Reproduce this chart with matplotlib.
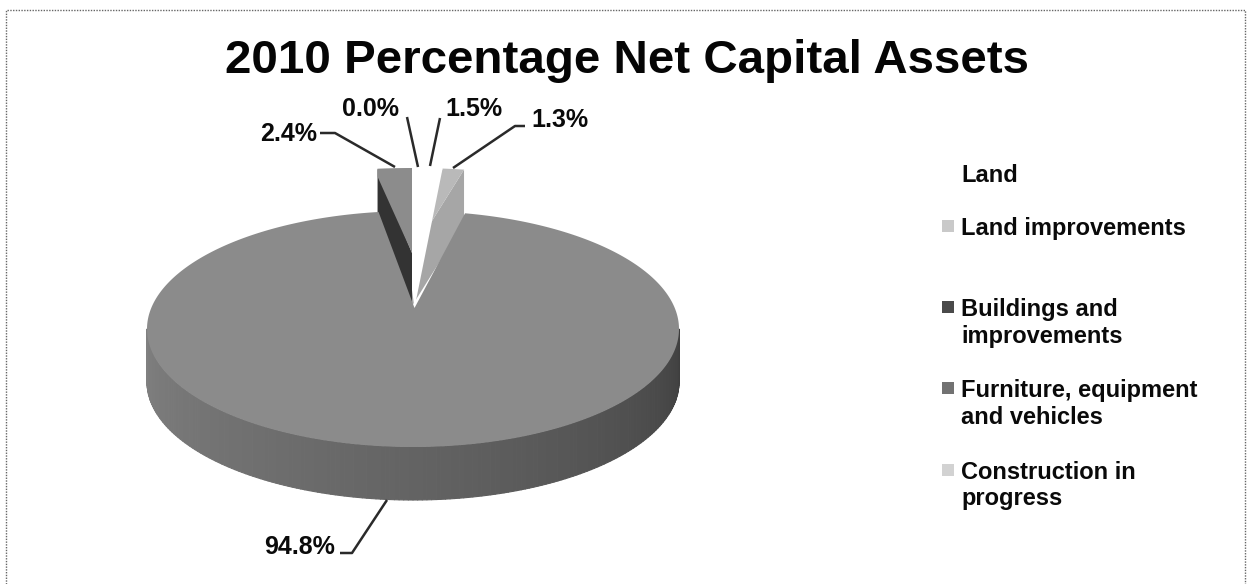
import numpy as np
import matplotlib
matplotlib.use("Agg")
import matplotlib.pyplot as plt
from matplotlib.collections import PolyCollection

# Share of net capital assets, 2010 (percent)
categories = ["Land", "Land improvements", "Buildings and\nimprovements",
              "Furniture, equipment\nand vehicles", "Construction in\nprogress"]
shares = [1.5, 1.3, 94.8, 2.4, 0.0]
share_labels = ["1.5%", "1.3%", "94.8%", "2.4%", "0.0%"]
swatch_colors = ["#ffffff", "#c9c9c9", "#4a4a4a", "#727272", "#d2d2d2"]

W, H = 1249, 584
fig = plt.figure(figsize=(W / 100, H / 100), dpi=100, facecolor="white")
ax = fig.add_axes([0, 0, 1, 1])
ax.set_xlim(0, W)
ax.set_ylim(H, 0)
ax.axis("off")
plt.rcParams["font.family"] = ["Liberation Sans", "DejaVu Sans"]

# Pie geometry in pixels
CX, CY, RX, RY = 413.0, 329.0, 266.0, 118.0
DEPTH = 53.0
APEX = (414.5, 308.0)             # inner point of the large slice's notch
SMALL_CX, SMALL_CY, SMALL_RY = 412.0, 253.0, 85.0  # pulled-out slices
ROTATION = 1.2                    # degrees clockwise from 12 o'clock

# Cumulative slice boundaries, clockwise from the top
edges = ROTATION + np.concatenate([[0], np.cumsum(shares)]) * 3.6
end_land, end_impr, end_bld = edges[1], edges[2], edges[3]


def main_pt(deg):
    t = np.radians(deg)
    return CX + RX * np.sin(t), CY - RY * np.cos(t)


def small_arc(a, b, n=12):
    t = np.radians(np.linspace(a, b, n))
    return np.column_stack([SMALL_CX + RX * np.sin(t), SMALL_CY - SMALL_RY * np.cos(t)])


# Border of the chart area, open along the bottom
ax.plot([6, 6, 1245, 1245], [584, 10, 10, 584], color="#666666", lw=1.0, ls=(0, (1, 1)), zorder=1)

# Pulled-out slice on the left: cut wall, then top face
arc = small_arc(end_bld - 360, 0.0)
ax.fill([arc[0, 0], arc[0, 0], SMALL_CX, SMALL_CX],
        [arc[0, 1], arc[0, 1] + DEPTH, SMALL_CY + DEPTH, SMALL_CY],
        color="#333333", lw=0, zorder=2)
ax.fill(*np.vstack([[[arc[0, 0], arc[0, 1] + 8]], arc, [[SMALL_CX, SMALL_CY]]]).T,
        color="#8c8c8c", lw=0, zorder=3)

# Pulled-out slices on the right: land improvements, then land
arc_i = small_arc(end_land, end_impr)
outer = arc_i[-1]
ax.fill([outer[0], outer[0], SMALL_CX, SMALL_CX],
        [outer[1], outer[1] + DEPTH, SMALL_CY + DEPTH, SMALL_CY],
        color="#a6a6a6", lw=0, zorder=2)
ax.fill(*np.vstack([arc_i, [[SMALL_CX, SMALL_CY]]]).T, color="#b9b9b9", lw=0, zorder=3)
arc_l = small_arc(0.0, end_land)
ax.fill(*np.vstack([arc_l, [APEX], [[SMALL_CX, 290]]]).T, color="#ffffff", lw=0, zorder=4)

# Side wall of the large slice, shaded strip by strip from right to left
theta = np.radians(np.linspace(90, 270, 181))
xs = CX + RX * np.sin(theta)
ys = CY - RY * np.cos(theta)
strips = []
shades = []
for i in range(len(theta) - 1):
    strips.append([(xs[i], ys[i]), (xs[i + 1], ys[i + 1]),
                   (xs[i + 1], ys[i + 1] + DEPTH), (xs[i], ys[i] + DEPTH)])
    frac = i / (len(theta) - 2)  # 0 at the right edge, 1 at the left edge
    shades.append(str(0.24 + 0.26 * frac ** 0.8))
ax.add_collection(PolyCollection(strips, facecolors=shades, edgecolors=shades, linewidths=0.8, zorder=5))

# Top face of the large slice
top = np.array(main_pt(np.linspace(end_impr, end_bld, 400))).T
ax.fill(*np.vstack([[APEX], top]).T, color="#8b8b8b", lw=0, zorder=6)

# Leader lines and value labels
leaders = {
    "2.4%": ([320, 335, 395], [133, 133, 167]),
    "0.0%": ([407, 418], [117, 167]),
    "1.5%": ([440, 430], [118, 166]),
    "1.3%": ([525, 515, 453], [126, 126, 168]),
    "94.8%": ([340, 352, 387], [553, 553, 500]),
}
label_pos = {"2.4%": (289, 134), "0.0%": (371, 109), "1.5%": (474, 109),
             "1.3%": (560, 120), "94.8%": (300, 547)}
for lab in share_labels:
    lx, ly = leaders[lab]
    ax.plot(lx, ly, color="#2a2a2a", lw=1.8, zorder=7, solid_capstyle="butt")
    ax.text(*label_pos[lab], lab, ha="center", va="center", fontsize=18,
            fontweight="bold", color="#0a0a0a", zorder=8)

# Title
ax.text(627, 61, "2010 Percentage Net Capital Assets", ha="center", va="center",
        fontsize=34.2, fontweight="bold", color="#050505")

# Legend
legend_y = [175, 228, 323, 404, 485.5]
for name, y in zip(categories, legend_y):
    ax.text(961, y, name, ha="left", va="center", fontsize=17, fontweight="bold",
            color="#0a0a0a", linespacing=1.2)
first_line_offset = [2, 2, 16, 16, 15.5]
for y, off, col in zip(legend_y, first_line_offset, swatch_colors):
    ax.scatter([948], [y - off], marker="s", s=65, color=col, lw=0, zorder=3)

fig.savefig("out.png", dpi=100)
